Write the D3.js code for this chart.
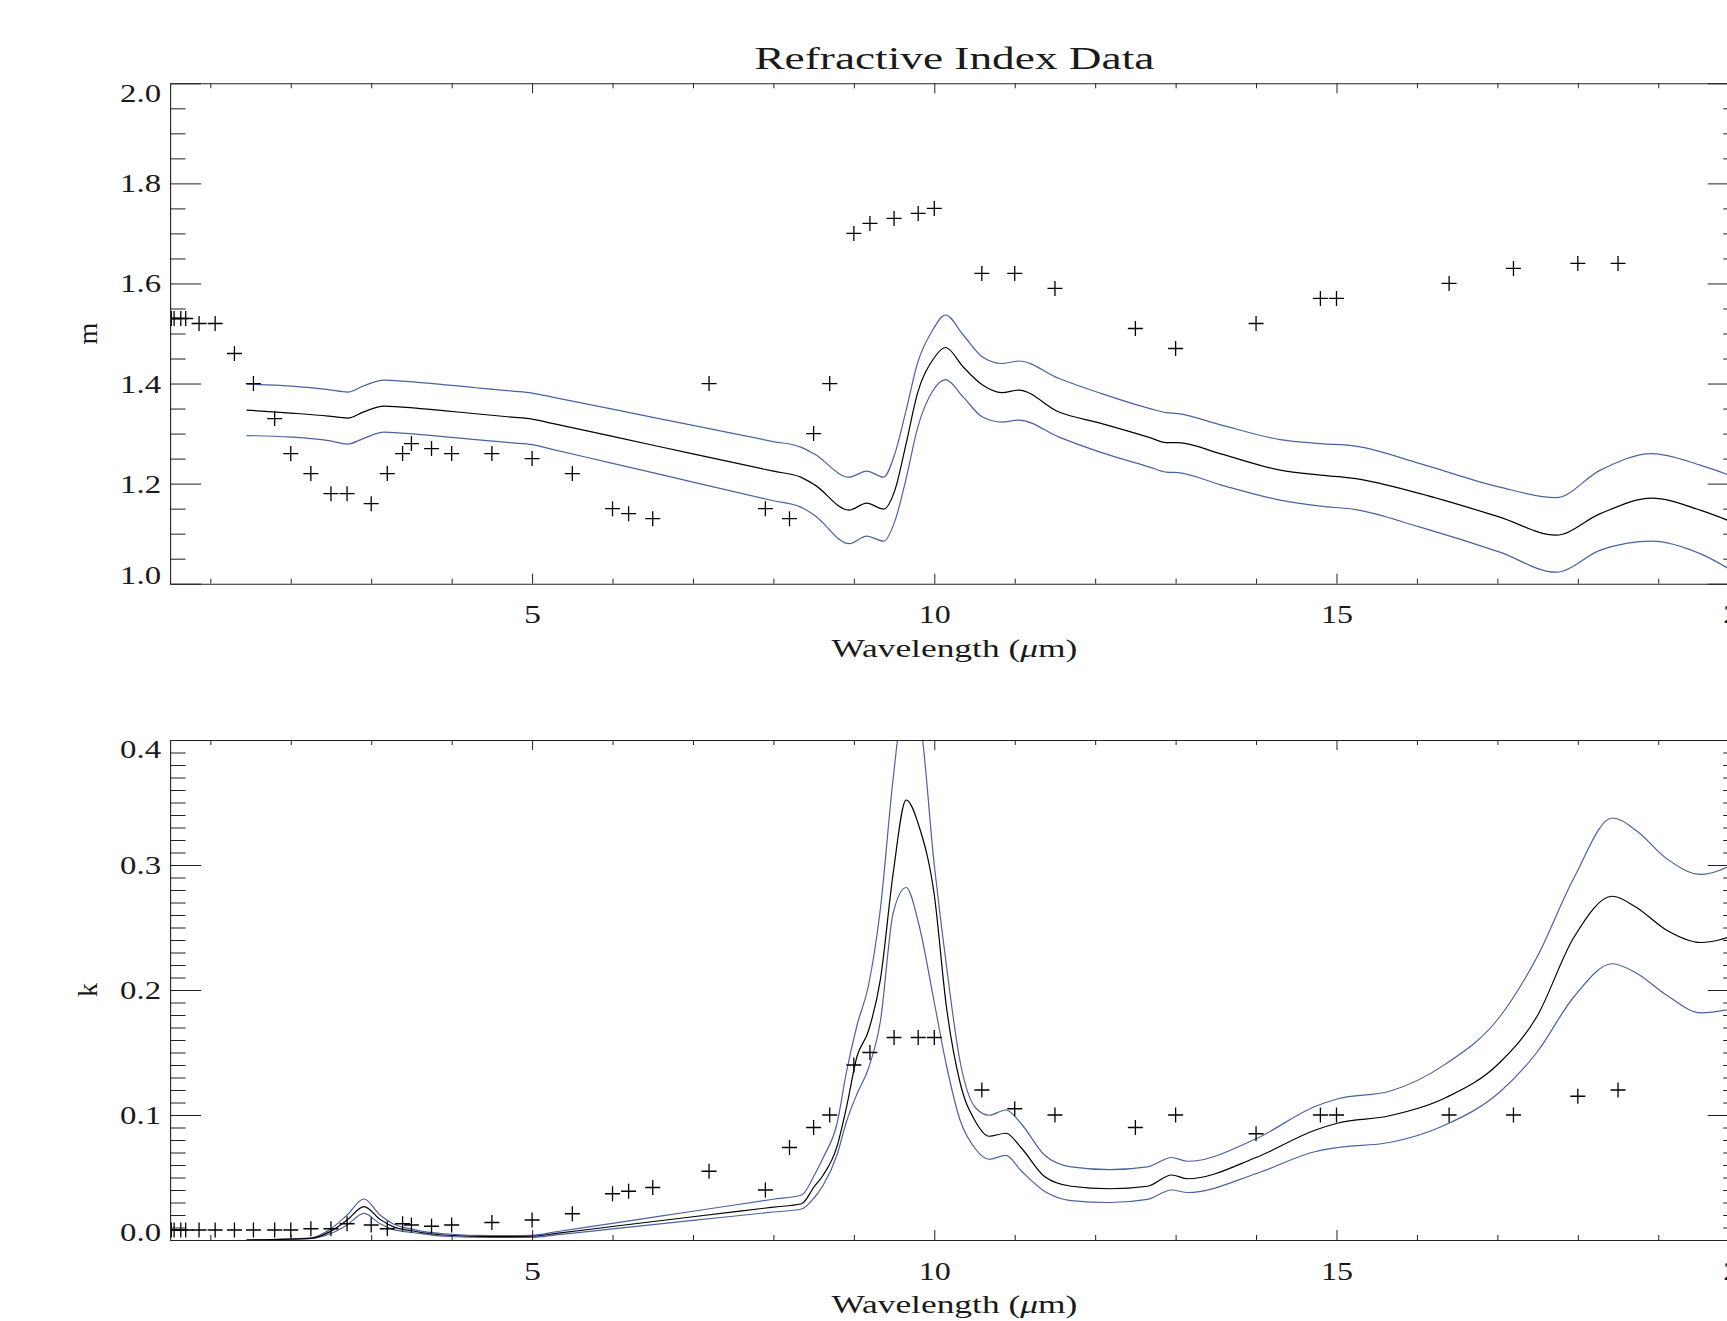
<!DOCTYPE html>
<html><head><meta charset="utf-8">
<script src="https://cdn.jsdelivr.net/npm/d3@7"></script>
<style>
body{margin:0;background:#fff;}
svg{display:block;}
text{font-family:"Liberation Serif","Times New Roman",serif;fill:#1a1a1a;}
</style>
</head><body>
<svg id="chart" width="1727" height="1321"></svg>
<script>
// ---------- data ----------
const wavelengths = [0.488,0.515,0.55,0.633,0.694,0.86,1.06,1.3,1.536,1.8,2.0,2.25,2.5,2.7,3.0,3.2,3.39,3.5,3.75,4.0,4.5,5.0,5.5,6.0,6.2,6.5,7.2,7.9,8.2,8.5,8.7,9.0,9.2,9.5,9.8,10.0,10.591,11.0,11.5,12.5,13.0,14.0,14.8,15.0,16.4,17.2,18.0,18.5];
const mMeasured = [1.53,1.53,1.53,1.53,1.53,1.52,1.52,1.46,1.40,1.33,1.26,1.22,1.18,1.18,1.16,1.22,1.26,1.28,1.27,1.26,1.26,1.25,1.22,1.15,1.14,1.13,1.40,1.15,1.13,1.30,1.40,1.70,1.72,1.73,1.74,1.75,1.62,1.62,1.59,1.51,1.47,1.52,1.57,1.57,1.60,1.63,1.64,1.64];
const kMeasured = [0.008,0.008,0.008,0.008,0.008,0.008,0.008,0.008,0.008,0.008,0.008,0.009,0.009,0.013,0.012,0.009,0.013,0.012,0.011,0.012,0.014,0.016,0.021,0.037,0.039,0.042,0.055,0.040,0.074,0.090,0.100,0.140,0.150,0.162,0.162,0.162,0.120,0.105,0.100,0.090,0.100,0.085,0.100,0.100,0.100,0.100,0.115,0.120];

const mCurveWavelengths = [1.45,2.0,2.47,2.71,2.9,3.16,3.61,4.3,4.75,5.0,5.25,6.0,7.0,8.0,8.34,8.51,8.94,9.16,9.37,9.51,9.65,9.79,9.98,10.14,10.36,10.6,10.84,11.05,11.55,12.06,12.68,12.88,13.03,13.55,14.3,14.8,15.24,16.04,17.03,17.73,18.28,18.92,19.52,20.0];
const mModel = [1.347,1.341,1.335,1.331,1.343,1.355,1.350,1.3396,1.3328,1.329,1.3203,1.2943,1.2595,1.2248,1.213,1.198,1.147,1.161,1.149,1.187,1.28,1.38,1.447,1.472,1.433,1.397,1.382,1.387,1.343,1.321,1.292,1.282,1.282,1.26,1.227,1.217,1.21,1.18,1.133,1.097,1.14,1.171,1.147,1.118];
const mUpper = [1.399,1.395,1.388,1.383,1.395,1.407,1.402,1.3916,1.3848,1.381,1.3729,1.3487,1.3163,1.284,1.273,1.259,1.213,1.225,1.213,1.26,1.347,1.44,1.507,1.537,1.497,1.453,1.44,1.445,1.41,1.381,1.35,1.342,1.34,1.318,1.288,1.28,1.275,1.24,1.193,1.172,1.227,1.26,1.237,1.21];
const mLower = [1.296,1.293,1.286,1.279,1.29,1.303,1.298,1.288,1.2815,1.278,1.2686,1.2406,1.2031,1.1657,1.153,1.137,1.08,1.095,1.085,1.125,1.21,1.31,1.385,1.408,1.373,1.333,1.323,1.327,1.293,1.263,1.233,1.223,1.222,1.198,1.167,1.155,1.148,1.113,1.063,1.023,1.067,1.085,1.06,1.018];

const kCurveWavelengths = [1.45,2.24,2.49,2.7,2.91,3.11,3.27,3.52,3.9,4.52,4.75,5.0,5.3,6.0,7.0,8.0,8.35,8.51,8.62,8.79,8.91,9.04,9.18,9.33,9.49,9.65,9.81,10.0,10.15,10.32,10.51,10.68,10.89,11.08,11.37,11.7,12.18,12.65,12.95,13.15,14.0,14.74,15.02,15.66,16.35,17.03,17.49,17.95,18.43,18.73,19.1,19.53,20.0];
const kModel = [0,0.0013,0.0067,0.016,0.0267,0.0165,0.0107,0.0072,0.004,0.0027,0.0027,0.003,0.0053,0.0108,0.0186,0.0263,0.029,0.043,0.052,0.0747,0.1067,0.147,0.167,0.2085,0.294,0.352,0.331,0.276,0.187,0.126,0.095,0.083,0.0854,0.0738,0.0508,0.043,0.041,0.043,0.052,0.049,0.066,0.088,0.0936,0.0994,0.1136,0.142,0.1786,0.242,0.275,0.266,0.248,0.238,0.245];
const kUpper = [0,0.0015,0.0085,0.020,0.0328,0.020,0.013,0.0085,0.005,0.0035,0.0035,0.0037,0.0066,0.0133,0.023,0.0326,0.036,0.052,0.066,0.093,0.135,0.172,0.203,0.265,0.37,0.44,0.42,0.30,0.22,0.143,0.106,0.0998,0.104,0.093,0.068,0.0585,0.0563,0.0585,0.066,0.063,0.081,0.107,0.113,0.119,0.1405,0.1786,0.226,0.2894,0.3376,0.3274,0.3053,0.2925,0.303];
const kLower = [0,0.001,0.005,0.012,0.0213,0.013,0.0085,0.006,0.003,0.002,0.002,0.0021,0.0041,0.0089,0.0157,0.0224,0.0248,0.034,0.044,0.068,0.095,0.117,0.137,0.175,0.262,0.282,0.252,0.19,0.14,0.096,0.073,0.0646,0.0677,0.0554,0.039,0.0315,0.030,0.0325,0.040,0.038,0.053,0.0708,0.074,0.078,0.092,0.1184,0.150,0.1944,0.221,0.2134,0.196,0.1817,0.186];

const xMajorTicks = [5,10,15,20];
const xMinorTicks = [1,2,3,4,6,7,8,9,11,12,13,14,16,17,18,19];
const mMajorTicks = [1.0,1.2,1.4,1.6,1.8,2.0];
const kMajorTicks = [0.0,0.1,0.2,0.3,0.4];
const titleText = "Refractive Index Data";

// ---------- layout ----------
const svg = d3.select("#chart");
const X0 = 170.1, X1 = 1738.7;
const x = d3.scaleLinear().domain([0.5, 20]).range([X0, X1]);
const BLUE = "#4b62a0";
const AX = "#222";

const panels = [
  {top:83.3, bottom:583.7, domain:[1,2], major:mMajorTicks, minor:d3.range(1,2.0001,0.05).map(v=>+v.toFixed(2)),
   fmt:d3.format(".1f"), label:"m", data:mMeasured, cx:mCurveWavelengths, curves:[mUpper,mLower,mModel]},
  {top:740, bottom:1240, domain:[0,0.4], major:kMajorTicks, minor:d3.range(0,0.4001,0.01).map(v=>+v.toFixed(2)),
   fmt:d3.format(".1f"), label:"k", data:kMeasured, cx:kCurveWavelengths, curves:[kUpper,kLower,kModel]}
];

function labelWidth(s){ let w=0; for(const c of s){ w += (c==='.')?9:15; } return w+2; }

panels.forEach((p,i)=>{
  const y = d3.scaleLinear().domain(p.domain).range([p.bottom, p.top]);
  const g = svg.append("g");

  const clipId = "clip"+i;
  svg.append("clipPath").attr("id",clipId).append("rect")
     .attr("x",X0).attr("y",p.top).attr("width",X1-X0).attr("height",p.bottom-p.top);

  // curves
  const plot = g.append("g").attr("clip-path",`url(#${clipId})`);
  const line = d3.line().x((d,j)=>x(p.cx[j])).y(d=>y(d)).curve(d3.curveMonotoneX);
  p.curves.forEach((arr,ci)=>{
    plot.append("path").attr("d",line(arr)).attr("fill","none")
      .attr("stroke", ci<2?BLUE:"#000").attr("stroke-width",1.2);
  });
  // crosses
  plot.selectAll("path.cross").data(p.data).enter().append("path")
    .attr("class","cross")
    .attr("transform",(d,j)=>`translate(${x(wavelengths[j])},${y(d)})`)
    .attr("d","M-7.5,0H7.5M0,-7.5V7.5")
    .attr("stroke","#000").attr("stroke-width",1.3).attr("fill","none");

  // axes
  const style = sel=>{ sel.select(".domain").attr("stroke",AX).attr("stroke-width",1.1);
                       sel.selectAll(".tick line").attr("stroke",AX).attr("stroke-width",1); };
  // bottom
  const gb = g.append("g").attr("transform",`translate(0,${p.bottom})`)
    .call(d3.axisBottom(x).tickValues(xMajorTicks).tickSize(-10).tickSizeOuter(0).tickPadding(22).tickFormat(d3.format("d")));
  style(gb);
  gb.selectAll("text").attr("font-size",25).attr("font-family",'"Liberation Serif",serif').attr("fill","#1a1a1a")
    .attr("textLength",function(){return labelWidth(this.textContent);}).attr("lengthAdjust","spacingAndGlyphs");
  const gbm = g.append("g").attr("transform",`translate(0,${p.bottom})`)
    .call(d3.axisBottom(x).tickValues(xMinorTicks).tickSize(-5).tickSizeOuter(0).tickFormat(""));
  style(gbm); gbm.select(".domain").remove();
  // top
  const gt = g.append("g").attr("transform",`translate(0,${p.top})`)
    .call(d3.axisTop(x).tickValues(xMajorTicks).tickSize(-10).tickSizeOuter(0).tickFormat(""));
  style(gt);
  const gtm = g.append("g").attr("transform",`translate(0,${p.top})`)
    .call(d3.axisTop(x).tickValues(xMinorTicks).tickSize(-5).tickSizeOuter(0).tickFormat(""));
  style(gtm); gtm.select(".domain").remove();
  // left
  const gl = g.append("g").attr("transform",`translate(${X0},0)`)
    .call(d3.axisLeft(y).tickValues(p.major).tickSize(-31).tickSizeOuter(0).tickPadding(9).tickFormat(p.fmt));
  style(gl);
  const nMaj = p.major.length;
  gl.selectAll("text").attr("font-size",25).attr("font-family",'"Liberation Serif",serif').attr("fill","#1a1a1a")
    .attr("textLength",function(){return labelWidth(this.textContent);}).attr("lengthAdjust","spacingAndGlyphs")
    .attr("dy",(d,j)=> j===0 ? "0em" : (j===nMaj-1 ? "0.71em" : "0.34em"));
  const glm = g.append("g").attr("transform",`translate(${X0},0)`)
    .call(d3.axisLeft(y).tickValues(p.minor.filter(v=>!p.major.some(m=>Math.abs(m-v)<1e-6))).tickSize(-15.5).tickSizeOuter(0).tickFormat(""));
  style(glm); glm.select(".domain").remove();
  // right
  const gr = g.append("g").attr("transform",`translate(${X1},0)`)
    .call(d3.axisRight(y).tickValues(p.major).tickSize(-31).tickSizeOuter(0).tickFormat(""));
  style(gr);
  const grm = g.append("g").attr("transform",`translate(${X1},0)`)
    .call(d3.axisRight(y).tickValues(p.minor.filter(v=>!p.major.some(m=>Math.abs(m-v)<1e-6))).tickSize(-15.5).tickSizeOuter(0).tickFormat(""));
  style(grm); grm.select(".domain").remove();

  // x label
  const xl = g.append("text").attr("x",(X0+X1)/2).attr("y",p.bottom+73).attr("text-anchor","middle")
    .attr("font-size",25).attr("textLength",246).attr("lengthAdjust","spacingAndGlyphs");
  xl.append("tspan").text("Wavelength (");
  xl.append("tspan").attr("font-style","italic").text("\u03BC");
  xl.append("tspan").text("m)");

  // y label
  g.append("text").attr("transform",`translate(97,${(p.top+p.bottom)/2}) rotate(-90)`)
    .attr("text-anchor","middle").attr("font-size",28).text(p.label);
});

// title
svg.append("text").attr("x",(X0+X1)/2).attr("y",69).attr("text-anchor","middle")
  .attr("font-size",31).attr("fill","#222").attr("textLength",400).attr("lengthAdjust","spacingAndGlyphs").text(titleText);
</script>
</body></html>
